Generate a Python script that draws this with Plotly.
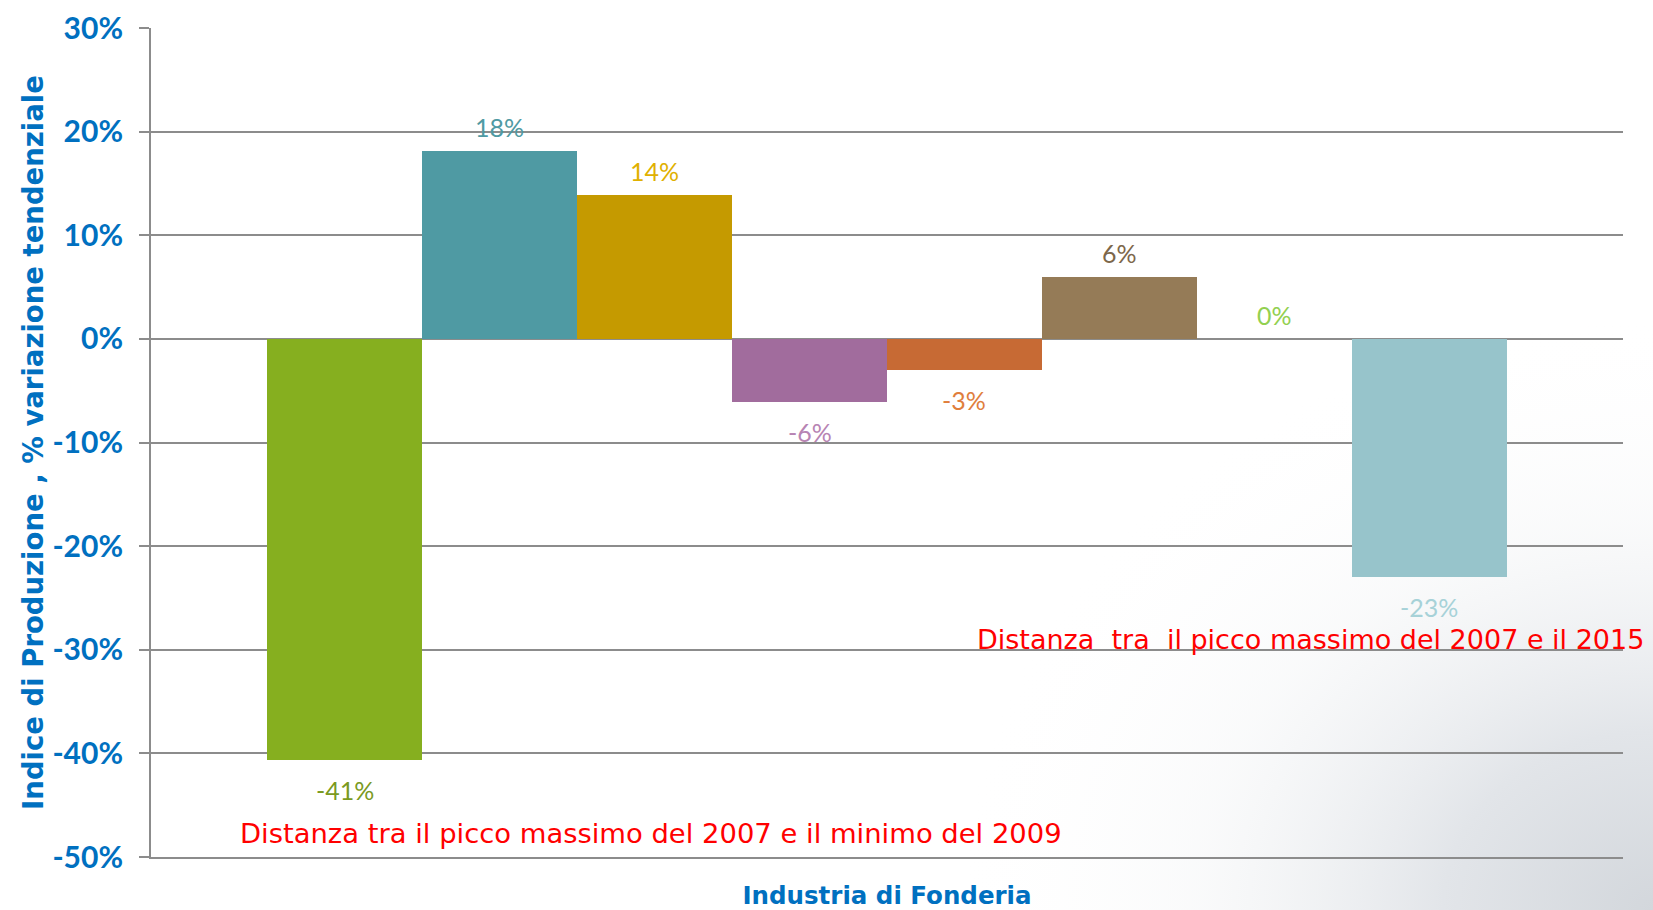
import base64
import plotly.graph_objects as go

# ---- data ----
positions = [0, 1, 2, 3, 4, 5, 6, 7]
values = [-40.6, 18.1, 13.9, -6.1, -3.0, 6.0, 0.0, -23.0]
value_labels = ["-41%", "18%", "14%", "-6%", "-3%", "6%", "0%", "-23%"]
bar_colors = ["#86AF1F", "#4F9AA3", "#C59A00", "#A16C9D", "#C76A34", "#957B57", "#92D050", "#97C4CB"]
label_colors = ["#7A9A1F", "#4F9AA3", "#E0B000", "#B784B3", "#E07E3C", "#7D674A", "#92D050", "#A7D2D8"]
y_ticks = [-50, -40, -30, -20, -10, 0, 10, 20, 30]
y_tick_text = ["-50%", "-40%", "-30%", "-20%", "-10%", "0%", "10%", "20%", "30%"]
category_title = "Industria di Fonderia"
y_title = "Indice di Produzione , % variazione tendenziale"
note_1 = "Distanza tra il picco massimo del 2007 e il minimo del 2009"
note_2 = "Distanza  tra  il picco massimo del 2007 e il 2015"

BLUE = "#0070C0"
GRID = "#8C8C8C"
W, H = 1653, 910
ML, MR, MT, MB = 151, 30, 28, 53
PW, PH = W - ML - MR, H - MT - MB

fig = go.Figure()
fig.add_trace(go.Bar(
    x=positions, y=values, width=1.0,
    marker=dict(color=bar_colors, line=dict(width=0)),
    hoverinfo="skip", showlegend=False,
))

for xp, v, t, c in zip(positions, values, value_labels, label_colors):
    fig.add_annotation(
        x=xp, y=v, text=t, showarrow=False,
        xanchor="center", yanchor="middle",
        yshift=24 if v >= 0 else -30,
        font=dict(family="Lato, Open Sans, sans-serif", size=25, color=c),
    )

fig.add_annotation(
    xref="paper", yref="paper", x=(238 - ML) / PW, y=(H - MB - 833) / PH,
    text=note_1, showarrow=False, xanchor="left", yanchor="middle",
    font=dict(family="DejaVu Sans, sans-serif", size=27.4, color="#FF0000"),
)
fig.add_annotation(
    xref="paper", yref="paper", x=(975 - ML) / PW, y=(H - MB - 639) / PH,
    text=note_2, showarrow=False, xanchor="left", yanchor="middle",
    font=dict(family="DejaVu Sans, sans-serif", size=27, color="#FF0000"),
)

# background gradient in bottom-right corner
svg = f"""<svg xmlns='http://www.w3.org/2000/svg' width='{W}' height='{H}' viewBox='0 0 {W} {H}' preserveAspectRatio='none'>
<defs><radialGradient id='g' gradientUnits='userSpaceOnUse' cx='{W}' cy='{H}' r='700'
 gradientTransform='translate({W} {H}) scale(1 0.85) translate(-{W} -{H})'>
<stop offset='0' stop-color='#D3D7DC' stop-opacity='1'/>
<stop offset='0.3' stop-color='#E2E5E9' stop-opacity='1'/>
<stop offset='0.65' stop-color='#F6F7F8' stop-opacity='0.6'/>
<stop offset='1' stop-color='#FFFFFF' stop-opacity='0'/>
</radialGradient></defs>
<rect x='0' y='0' width='{W}' height='{H}' fill='url(#g)'/></svg>"""
src = "data:image/svg+xml;base64," + base64.b64encode(svg.encode()).decode()
fig.add_layout_image(dict(
    source=src, xref="paper", yref="paper",
    x=-ML / PW, y=1 + MT / PH, sizex=W / PW, sizey=H / PH,
    xanchor="left", yanchor="top", sizing="stretch", layer="below", opacity=1,
))

fig.update_layout(
    width=W, height=H,
    margin=dict(l=ML, r=MR, t=MT, b=MB, autoexpand=False),
    paper_bgcolor="white", plot_bgcolor="rgba(0,0,0,0)",
    bargap=0,
    xaxis=dict(
        range=[-1.25, 8.25], showticklabels=False, showgrid=False, zeroline=False,
        showline=True, linecolor=GRID, linewidth=2, ticks="", automargin=False,
        title=dict(text=category_title, standoff=29,
                   font=dict(family="DejaVu Sans, sans-serif", size=24.5, color=BLUE, weight="bold")),
    ),
    yaxis=dict(
        range=[-50, 30], tickmode="array", tickvals=y_ticks, ticktext=y_tick_text,
        showgrid=True, gridcolor=GRID, gridwidth=2, automargin=False,
        zeroline=True, zerolinecolor=GRID, zerolinewidth=2,
        showline=True, linecolor=GRID, linewidth=2,
        ticks="outside", ticklen=10, tickcolor=GRID, tickwidth=2,
        ticklabelstandoff=10,
        tickfont=dict(family="Lato, sans-serif", size=30, color=BLUE, weight="bold"),
        title=dict(text=y_title, standoff=1,
                   font=dict(family="DejaVu Sans, sans-serif", size=27.5, color=BLUE, weight="bold")),
    ),
)

fig.write_html("out.html", config={"displayModeBar": False},
               post_script="document.body.style.margin='0px';")
